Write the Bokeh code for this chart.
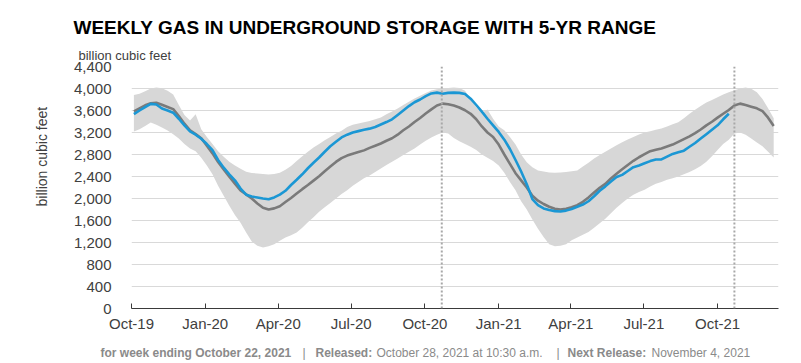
import math
import pandas as pd
from bokeh.plotting import figure
from bokeh.layouts import column, row
from bokeh.models import (Range1d, FixedTicker, Span, Label, NumeralTickFormatter,
                          DatetimeTickFormatter)
from bokeh.embed import file_html
from bokeh.resources import INLINE

# ---------------- data (billion cubic feet, weekly) ----------------
first_week = "2019-10-04"

storage_bcf = [
    3535, 3600, 3660, 3720, 3710, 3635, 3600, 3560, 3450, 3330,
    3220, 3160, 3085, 2990, 2880, 2700, 2560, 2440, 2330, 2180,
    2070, 2035, 2018, 2000, 1985, 2020, 2070, 2140, 2245, 2340,
    2440, 2550, 2650, 2745, 2850, 2950, 3030, 3110, 3160, 3200,
    3225, 3250, 3270, 3300, 3345, 3390, 3440, 3520, 3600, 3680,
    3750, 3800, 3860, 3910, 3925, 3905, 3920, 3925, 3920, 3900,
    3815, 3700, 3580, 3450, 3330, 3210, 3070, 2900, 2700, 2490,
    2260, 1990, 1880, 1820, 1790, 1770, 1765, 1780, 1810, 1850,
    1890, 1950, 2040, 2140, 2220, 2310, 2390, 2430, 2500, 2570,
    2600, 2640, 2680, 2710, 2710, 2760, 2810, 2840, 2870, 2940,
    3010, 3090, 3170, 3250, 3330, 3440, 3540,
]

avg_5yr_bcf = [
    3585, 3640, 3695, 3730, 3740, 3705, 3665, 3625, 3500, 3360,
    3240, 3170, 3095, 2960, 2820, 2665, 2530, 2395, 2270, 2145,
    2075, 2000, 1910, 1830, 1800, 1820, 1860, 1935, 2010, 2090,
    2170, 2245, 2325, 2405, 2495, 2580, 2665, 2735, 2780, 2815,
    2845, 2875, 2920, 2960, 3000, 3050, 3095, 3160, 3240, 3310,
    3390, 3465, 3545, 3620, 3690, 3725, 3715, 3690, 3655, 3605,
    3540, 3440, 3310, 3200, 3120, 2980, 2800, 2630, 2460, 2330,
    2200, 2050, 1960, 1900, 1850, 1815, 1800, 1815, 1840, 1880,
    1940, 2020, 2110, 2195, 2265, 2365, 2450, 2530, 2610, 2685,
    2750, 2805, 2860, 2885, 2910, 2945, 2980, 3030, 3080, 3130,
    3190, 3255, 3330, 3395, 3470, 3540, 3610, 3690, 3725, 3700,
    3670, 3640, 3590, 3470, 3320,
]

max_5yr_bcf = [
    3880, 3905, 3950, 4000, 4020, 4005, 3960, 3890, 3700, 3520,
    3420, 3530, 3260, 3120, 2990, 2860, 2760, 2670, 2600, 2540,
    2485, 2465, 2455, 2445, 2436, 2445, 2470, 2525, 2590, 2680,
    2770, 2850, 2927, 2990, 3060, 3120, 3180, 3230, 3300, 3340,
    3365, 3385, 3410, 3440, 3475, 3530, 3580, 3636, 3700, 3760,
    3820, 3870, 3920, 3965, 3985, 4000, 4010, 4018, 4010, 3960,
    3800, 3660, 3560, 3620, 3450, 3310, 3240, 3120, 2980, 2800,
    2660, 2570, 2509, 2490, 2475, 2470, 2473, 2480, 2495, 2509,
    2580, 2650, 2727, 2790, 2850, 2909, 2970, 3025, 3075, 3120,
    3165, 3200, 3225, 3250, 3273, 3310, 3350, 3385, 3460, 3540,
    3615, 3680, 3745, 3790, 3840, 3890, 3930, 3970, 4000, 4018,
    3995, 3930, 3810, 3640, 3460,
]

min_5yr_bcf = [
    3220, 3260, 3320, 3380, 3340, 3290, 3236, 3170, 3090, 2990,
    2910, 2860, 2740, 2600, 2440, 2230, 2050, 1870, 1700, 1560,
    1380, 1220, 1140, 1110, 1130, 1170, 1230, 1290, 1330, 1380,
    1470, 1570, 1660, 1760, 1840, 1920, 2000, 2080, 2150, 2230,
    2300, 2370, 2420, 2480, 2545, 2610, 2670, 2727, 2790, 2850,
    2910, 2980, 3050, 3110, 3160, 3200, 3180, 3100, 3040, 2990,
    2940, 2880, 2800, 2740, 2680, 2600, 2470, 2300, 2150, 1950,
    1800, 1620, 1450, 1300, 1170, 1130, 1140, 1170, 1240, 1290,
    1340, 1390, 1470, 1550, 1630, 1730, 1830, 1920, 2000, 2070,
    2120, 2160, 2220, 2270, 2300, 2340, 2370, 2400, 2440, 2480,
    2530, 2590, 2670, 2770, 2880, 2990, 3070, 3180, 3200, 3160,
    3090, 3020, 2950, 2850, 2745,
]

x_tick_dates = ["2019-10-01", "2020-01-01", "2020-04-01", "2020-07-01", "2020-10-01",
                "2021-01-01", "2021-04-01", "2021-07-01", "2021-10-01"]
x_tick_labels = ["Oct-19", "Jan-20", "Apr-20", "Jul-20", "Oct-20",
                 "Jan-21", "Apr-21", "Jul-21", "Oct-21"]
y_ticks = [0, 400, 800, 1200, 1600, 2000, 2400, 2800, 3200, 3600, 4000, 4400]
report_weeks = ["2020-10-22", "2021-10-22"]
x_start, x_end = "2019-10-01", "2021-12-16"

title_text = "WEEKLY GAS IN UNDERGROUND STORAGE WITH 5-YR RANGE"
unit_text = "billion cubic feet"
footer_parts = [
    ("for week ending October 22, 2021", "bold"),
    ("|", "normal"),
    ("Released:", "bold"),
    ("October 28, 2021 at 10:30 a.m.", "normal"),
    ("|", "normal"),
    ("Next Release:", "bold"),
    ("November 4, 2021", "normal"),
]
footer_x = [100, 302, 315, 376, 556, 567, 651]


def ms(d):
    return int(pd.Timestamp(d).value // 10**6)


weeks_storage = pd.date_range(first_week, periods=len(storage_bcf), freq="7D")
weeks_range = pd.date_range(first_week, periods=len(avg_5yr_bcf), freq="7D")

FONT = "Liberation Sans"
TXT = "#404040"
W = 793
TOP_H, FOOT_H, LEFT_W = 40, 22, 60
FRAME_L, FRAME_T, FRAME_W, FRAME_H = 131, 66, 647, 242
MAIN_H = FRAME_T + FRAME_H + 30 - TOP_H


def blank(width, height):
    f = figure(width=width, height=height, output_backend="svg", toolbar_location=None,
               x_range=Range1d(0, width), y_range=Range1d(height, 0),
               min_border=0, x_axis_location=None, y_axis_location=None)
    f.outline_line_color = None
    f.grid.visible = False
    return f


# ---------------- header ----------------
head = blank(W, TOP_H)
head.add_layout(Label(x=73, y=27, text=title_text, text_font=FONT,
                      text_font_size="19px", text_font_style="bold",
                      text_color="black", text_baseline="alphabetic"))

# ---------------- left label ----------------
left = blank(LEFT_W, MAIN_H)
left.add_layout(Label(x=41, y=151 - TOP_H, text=unit_text, text_font=FONT,
                      text_font_size="14px", text_color=TXT, text_align="center",
                      text_baseline="middle", angle=math.pi / 2))

# ---------------- main chart ----------------
p = figure(width=W - LEFT_W, height=MAIN_H, output_backend="svg", toolbar_location=None,
           x_axis_type="datetime",
           x_range=Range1d(ms(x_start), ms(x_end)),
           y_range=Range1d(0, 4400),
           min_border_left=FRAME_L - LEFT_W, min_border_right=W - FRAME_L - FRAME_W,
           min_border_top=FRAME_T - TOP_H, min_border_bottom=30)
p.outline_line_color = None
p.title.text = unit_text
p.title.align = "left"
p.title.offset = 78 - FRAME_L
p.title.standoff = 8
p.title.text_font = FONT
p.title.text_font_size = "13px"
p.title.text_font_style = "normal"
p.title.text_color = TXT

p.varea(x=weeks_range, y1=min_5yr_bcf, y2=max_5yr_bcf, fill_color="#d7d7d7")
p.line(weeks_range, avg_5yr_bcf, line_color="#7a7a7a", line_width=2.6)
p.line(weeks_storage, storage_bcf, line_color="#1b97d4", line_width=2.6)

for d in report_weeks:
    p.add_layout(Span(location=ms(d), dimension="height", line_color="#a8a8a8",
                      line_width=2, line_dash="2 2"))

xa = p.xaxis[0]
xa.ticker = FixedTicker(ticks=[ms(d) for d in x_tick_dates])
xa.formatter = DatetimeTickFormatter(months="%b-%y", days="%b-%y", years="%b-%y")
xa.major_label_overrides = {ms(d): lab for d, lab in zip(x_tick_dates, x_tick_labels)}
xa.axis_line_color = "#3a3a3a"
xa.major_tick_line_color = "#3a3a3a"
xa.major_tick_in = 5
xa.major_tick_out = 0
xa.minor_tick_line_color = None
xa.major_label_standoff = 6
xa.major_label_text_font = FONT
xa.major_label_text_font_size = "15px"
xa.major_label_text_color = TXT

ya = p.yaxis[0]
ya.ticker = FixedTicker(ticks=y_ticks)
ya.formatter = NumeralTickFormatter(format="0,0")
ya.axis_line_color = None
ya.major_tick_line_color = None
ya.minor_tick_line_color = None
ya.major_label_standoff = 14
ya.major_label_text_font = FONT
ya.major_label_text_font_size = "15px"
ya.major_label_text_color = TXT

p.xgrid.visible = False
p.ygrid.ticker = FixedTicker(ticks=y_ticks)
p.ygrid.grid_line_color = "#d9d9d9"
p.ygrid.grid_line_width = 1

# ---------------- footer ----------------
foot = blank(W, FOOT_H)
for (txt, style), fx in zip(footer_parts, footer_x):
    foot.add_layout(Label(x=fx, y=14, text=txt, text_font=FONT, text_font_size="12px",
                          text_color="#8a8a8a", text_font_style=style,
                          text_baseline="alphabetic"))

layout = column(head, row(left, p), foot)
open("out.html", "w").write(file_html(layout, INLINE))
